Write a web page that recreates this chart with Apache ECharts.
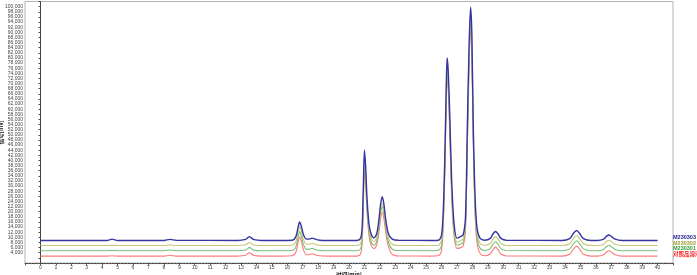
<!DOCTYPE html>
<html>
<head>
<meta charset="utf-8">
<script src="https://cdn.jsdelivr.net/npm/echarts@6/dist/echarts.min.js"></script>
<style>
html,body{margin:0;padding:0;background:#fff;}
#chart{width:697px;height:275px;}
</style>
</head>
<body>
<div id="chart"></div>
<script>
// Retention time (min)
var times = [
  0, 2, 4.3, 4.65, 5.0, 8.0, 8.4, 8.8,
  12.8, 13.3, 13.45, 13.55, 13.65, 13.85, 14.3,
  15.6, 16.3, 16.55, 16.7, 16.8, 16.9, 17.05, 17.25, 17.45, 17.62, 17.8, 18.1, 18.6,
  20.5, 20.75, 20.85, 20.93, 21.0, 21.08, 21.17, 21.3, 21.45, 21.62,
  21.8, 21.95, 22.05, 22.15, 22.25, 22.38, 22.55, 22.8, 23.2,
  25.3, 25.8, 26.0, 26.12, 26.22, 26.3, 26.36, 26.43, 26.52, 26.65, 26.8, 27.0,
  27.2, 27.4, 27.55, 27.68, 27.78, 27.88, 27.96, 28.05, 28.17, 28.3, 28.5, 28.8,
  29.15, 29.35, 29.5, 29.65, 29.85, 30.2,
  33.8, 34.3, 34.55, 34.75, 34.95, 35.2, 35.7,
  36.1, 36.5, 36.7, 36.85, 37.0, 37.25, 37.7, 40
];
var m230303 = [
  8800, 8750, 8800, 9300, 8800, 8800, 9200, 8850,
  8800, 9200, 9900, 10300, 9900, 9100, 8800,
  8800, 8900, 10200, 14000, 16000, 14500, 11000, 9300, 9400, 9700, 9300, 8900, 8800,
  8800, 9600, 13500, 30000, 44000, 37500, 25000, 15000, 11000, 9800,
  11500, 17500, 23000, 25900, 23500, 17000, 11500, 9300, 8850,
  8800, 8900, 11000, 22000, 44000, 68000, 80000, 75000, 60000, 33000, 16000, 9700,
  10200, 11000, 18000, 56000, 84000, 99800, 90000, 55000, 26000, 13500, 9600, 8900,
  9600, 11500, 12300, 11400, 9600, 8850,
  8800, 9500, 11600, 12700, 11500, 9500, 8800,
  8800, 9300, 10500, 10900, 10400, 9300, 8800, 8800
];
var m230302 = [
  6800, 6800, 6800, 6950, 6800, 6800, 7100, 6800,
  6800, 7100, 7700, 8100, 7700, 7000, 6800,
  6800, 6900, 8200, 12100, 14200, 12700, 9100, 7300, 7400, 7700, 7300, 6900, 6800,
  6800, 7500, 11500, 27000, 40500, 34500, 23000, 13500, 9500, 8300,
  9900, 15500, 20800, 23500, 21200, 15000, 9800, 7300, 6850,
  6800, 6950, 9000, 20000, 41500, 65000, 77000, 72000, 57000, 30500, 14000, 8100,
  8600, 9400, 16000, 52000, 80000, 96000, 86500, 52000, 23500, 11500, 7600, 6900,
  7600, 9500, 10300, 9400, 7600, 6850,
  6800, 7500, 9600, 10700, 9500, 7500, 6800,
  6800, 7300, 8500, 8900, 8400, 7300, 6800, 6800
];
var m230301 = [
  4800, 4800, 4800, 4900, 4800, 4800, 5100, 4800,
  4800, 5100, 5700, 6100, 5700, 5000, 4800,
  4800, 4900, 6200, 10200, 12300, 10800, 7200, 5300, 5400, 5700, 5300, 4900, 4800,
  4800, 5500, 9500, 25000, 38500, 32800, 21500, 12000, 8000, 6900,
  8600, 14200, 19400, 22000, 19800, 13800, 8300, 5400, 4850,
  4800, 4950, 7000, 18000, 39500, 63000, 75000, 70000, 55000, 28500, 12500, 6900,
  7300, 8000, 14500, 50000, 78000, 94000, 84500, 50000, 21500, 9600, 5700, 4900,
  5600, 7500, 8300, 7400, 5600, 4850,
  4800, 5500, 7600, 8700, 7500, 5500, 4800,
  4800, 5300, 6500, 6900, 6400, 5300, 4800, 4800
];
var reference = [
  2700, 2700, 2700, 2800, 2700, 2700, 3000, 2700,
  2700, 3000, 3700, 4100, 3700, 2900, 2700,
  2700, 2800, 4100, 8100, 10200, 8700, 5100, 3200, 3300, 3600, 3200, 2800, 2700,
  2700, 3500, 7500, 22500, 36000, 30500, 19800, 10600, 6700, 5600,
  7200, 12300, 17300, 19800, 17700, 12000, 6600, 3400, 2750,
  2700, 2900, 5000, 16000, 37000, 60500, 72500, 68000, 53000, 27000, 11000, 5700,
  5900, 6600, 12500, 47500, 75500, 91500, 82000, 48000, 19500, 7800, 3700, 2800,
  3500, 5400, 6200, 5300, 3500, 2750,
  2700, 3400, 5500, 6600, 5400, 3400, 2700,
  2700, 3200, 4400, 4800, 4300, 3200, 2700, 2700
];
var seriesNames = ['M230303', 'M230302', 'M230301', '对照品溶液'];
var lineColors = ['#3434a4', '#c6c67a', '#78c078', '#ff7a7a'];
var legendColors = ['#1c1c8c', '#9a9a30', '#2f9a2f', '#ff1a1a'];
var xLabel = '时间[min]';
var yLabel = '信号[mV]';

var valueSets = [m230303, m230302, m230301, reference];
function pairs(vals) { return times.map(function (t, i) { return [t, vals[i]]; }); }

var series = [];
for (var k = valueSets.length - 1; k >= 0; k--) {
  series.push({
    name: seriesNames[k],
    type: 'line',
    data: pairs(valueSets[k]),
    showSymbol: false,
    smooth: 0.3,
    lineStyle: { color: lineColors[k], width: k === 0 ? 1.4 : 1.1 },
    itemStyle: { color: lineColors[k] },
    z: 10 - k
  });
}

var chart = echarts.init(document.getElementById('chart'), null, { renderer: 'canvas' });
chart.setOption({
  animation: false,
  backgroundColor: '#fff',
  grid: { left: 25, right: 24, top: 1.5, bottom: 12, show: true, borderColor: '#b4b4b4', borderWidth: 1,
    containLabel: false, outerBoundsMode: 'none' },
  legend: {
    orient: 'vertical', left: 668, top: 235, icon: 'none', itemWidth: 0, itemHeight: 4.7, itemGap: 0, padding: 0,
    textStyle: { fontSize: 5.5, fontWeight: 'bold', lineHeight: 4.7, fontFamily: 'Liberation Sans, Noto Sans CJK SC' },
    data: seriesNames.map(function (n, i) { return { name: n, textStyle: { color: legendColors[i] } }; })
  },
  xAxis: {
    type: 'value', min: -1, max: 41, interval: 1,
    name: xLabel, nameLocation: 'middle', nameGap: 9, nameMoveOverlap: false,
    nameTextStyle: { fontSize: 5.5, fontWeight: 'bold', color: '#111', fontFamily: 'Noto Sans CJK SC' },
    axisLine: { show: true, lineStyle: { color: '#444', width: 1 } },
    axisTick: { show: true, length: 2.5, lineStyle: { color: '#555' } },
    minorTick: { show: true, splitNumber: 5, length: 1.2, lineStyle: { color: '#777' } },
    axisLabel: { fontSize: 5, color: '#444', margin: 2, fontFamily: 'Liberation Sans',
      formatter: function (v) { return (v < 0 || v > 40) ? '' : String(v); } },
    splitLine: { show: false }
  },
  yAxis: {
    type: 'value', min: 0, max: 102000, interval: 2000,
    name: yLabel, nameLocation: 'middle', nameGap: 21, nameRotate: 90, nameMoveOverlap: false,
    nameTextStyle: { fontSize: 5.5, fontWeight: 'bold', color: '#111', fontFamily: 'Noto Sans CJK SC' },
    axisLine: { show: true, lineStyle: { color: '#444', width: 1 } },
    axisTick: { show: true, length: 2, lineStyle: { color: '#555' } },
    axisLabel: { fontSize: 5, color: '#444', margin: 2, fontFamily: 'Liberation Sans',
      formatter: function (v) { return (v < 4000 || v > 100000) ? '' : v.toLocaleString('en-US'); } },
    splitLine: { show: false }
  },
  series: series
});
</script>
</body>
</html>
